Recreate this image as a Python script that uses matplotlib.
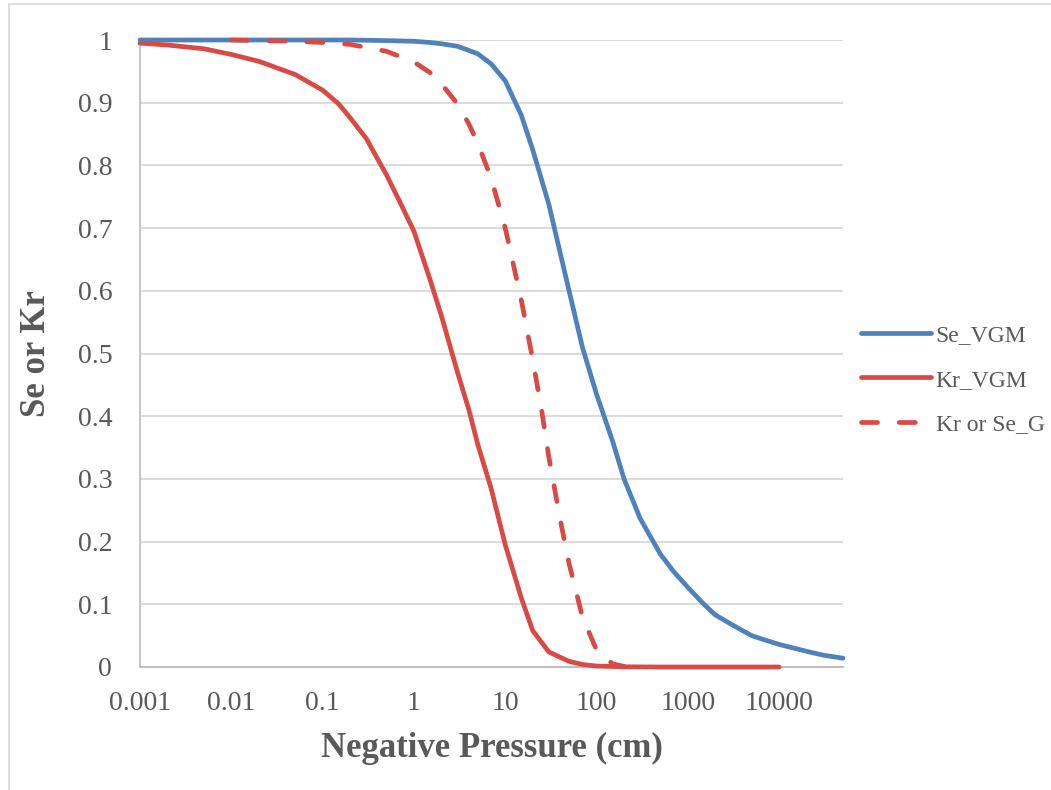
import matplotlib
matplotlib.use("Agg")
import matplotlib.pyplot as plt
from matplotlib.ticker import FixedLocator, FuncFormatter, NullLocator
from matplotlib.lines import Line2D

# ---------------- data ----------------
h_se = [0.001, 0.01, 0.1, 0.2, 0.5, 1, 1.5, 2, 3, 5, 7, 10, 15, 20, 30, 50, 70,
        100, 150, 200, 300, 500, 700, 1000, 1500, 2000, 3000, 5000, 7000,
        10000, 20000, 30000, 50000]
se_vgm = [1.0, 1.0, 1.0, 1.0, 0.999, 0.998, 0.996, 0.994, 0.99, 0.978, 0.962,
          0.935, 0.88, 0.825, 0.738, 0.60, 0.51, 0.435, 0.36, 0.30, 0.237,
          0.18, 0.152, 0.127, 0.10, 0.083, 0.068, 0.05, 0.043, 0.036, 0.025,
          0.019, 0.014]

h_kr = [0.001, 0.002, 0.005, 0.01, 0.02, 0.05, 0.1, 0.15, 0.2, 0.3, 0.5, 0.7,
        1, 1.5, 2, 3, 4, 5, 7, 10, 15, 20, 30, 50, 70, 100, 200, 500, 1000,
        10000]
kr_vgm = [0.995, 0.992, 0.986, 0.977, 0.966, 0.945, 0.92, 0.898, 0.876, 0.843,
          0.785, 0.742, 0.695, 0.618, 0.56, 0.47, 0.41, 0.355, 0.285, 0.195,
          0.11, 0.058, 0.024, 0.009, 0.004, 0.0015, 0.0003, 0.0, 0.0, 0.0]

h_g = [0.01, 0.02, 0.05, 0.1, 0.2, 0.5, 1, 1.5, 2, 3, 4, 5, 7, 10, 15, 20, 25,
       30, 40, 50, 70, 100, 150, 200]
kr_se_g = [1.0, 0.999, 0.998, 0.996, 0.993, 0.982, 0.965, 0.948, 0.93, 0.898,
           0.866, 0.835, 0.78, 0.70, 0.585, 0.49, 0.41, 0.335, 0.235, 0.165,
           0.08, 0.027, 0.005, 0.001]

series_labels = ["Se_VGM", "Kr_VGM", "Kr or Se_G"]
x_ticks = [0.001, 0.01, 0.1, 1, 10, 100, 1000, 10000]
y_ticks = [0, 0.1, 0.2, 0.3, 0.4, 0.5, 0.6, 0.7, 0.8, 0.9, 1]
x_label = "Negative Pressure (cm)"
y_label = "Se or Kr"

# ---------------- style ----------------
BLUE = "#4F81BD"
RED = "#DA4A44"
TXT = "#595959"
GRID = "#D9D9D9"
AXC = "#BFBFBF"
LW = 3.4

plt.rcParams["font.family"] = ["Liberation Serif", "DejaVu Serif"]

fig = plt.figure(figsize=(10.51, 7.90), dpi=100)
ax = fig.add_axes([140 / 1051, 1 - 667 / 790, (843 - 140) / 1051, (667 - 40) / 790])

ax.plot(h_se, se_vgm, color=BLUE, lw=LW, solid_capstyle="round",
        solid_joinstyle="round", clip_on=False, label=series_labels[0], zorder=3)
ax.plot(h_kr, kr_vgm, color=RED, lw=LW, solid_capstyle="round",
        solid_joinstyle="round", clip_on=False, label=series_labels[1], zorder=3)
ln, = ax.plot(h_g, kr_se_g, color=RED, lw=LW, dash_capstyle="round",
              dash_joinstyle="round", clip_on=False, label=series_labels[2],
              zorder=3)
ln.set_dashes([3.4, 4.6])

ax.set_xscale("log")
ax.set_xlim(0.001, 50000)
ax.set_ylim(0, 1)

ax.xaxis.set_major_locator(FixedLocator(x_ticks))
ax.xaxis.set_minor_locator(NullLocator())
ax.xaxis.set_major_formatter(FuncFormatter(lambda v, p: "%g" % v))
ax.yaxis.set_major_locator(FixedLocator(y_ticks))
ax.yaxis.set_major_formatter(FuncFormatter(lambda v, p: "%g" % v))

ax.grid(axis="y", color=GRID, lw=1.3, zorder=0)
ax.set_axisbelow(True)
for s in ["top", "right"]:
    ax.spines[s].set_visible(False)
ax.spines["left"].set_color(AXC)
ax.spines["left"].set_linewidth(1.3)
ax.spines["bottom"].set_color(AXC)
ax.spines["bottom"].set_linewidth(1.5)

ax.tick_params(axis="both", length=0, labelsize=20, labelcolor=TXT)
ax.tick_params(axis="y", pad=20)
ax.tick_params(axis="x", pad=17)

ax.set_xlabel(x_label, fontsize=25, fontweight="bold", color=TXT, labelpad=12)
ax.set_ylabel(y_label, fontsize=25, fontweight="bold", color=TXT, labelpad=18)

leg = fig.legend(loc="center left", bbox_to_anchor=(861 / 1051, 1 - 380 / 790),
                 frameon=False, fontsize=17, handlelength=2.95, handletextpad=0.22,
                 labelspacing=0.98, borderpad=0, borderaxespad=0)
for t in leg.get_texts():
    t.set_color(TXT)

# chart-area border (light gray, top and left visible)
fig.add_artist(Line2D([8.5 / 1051, 8.5 / 1051], [0, 1 - 3.5 / 790],
                      transform=fig.transFigure, color="#D9D9D9", lw=1.2))
fig.add_artist(Line2D([8.5 / 1051, 1], [1 - 3.5 / 790, 1 - 3.5 / 790],
                      transform=fig.transFigure, color="#D9D9D9", lw=1.2))

fig.savefig("out.png", dpi=100)
